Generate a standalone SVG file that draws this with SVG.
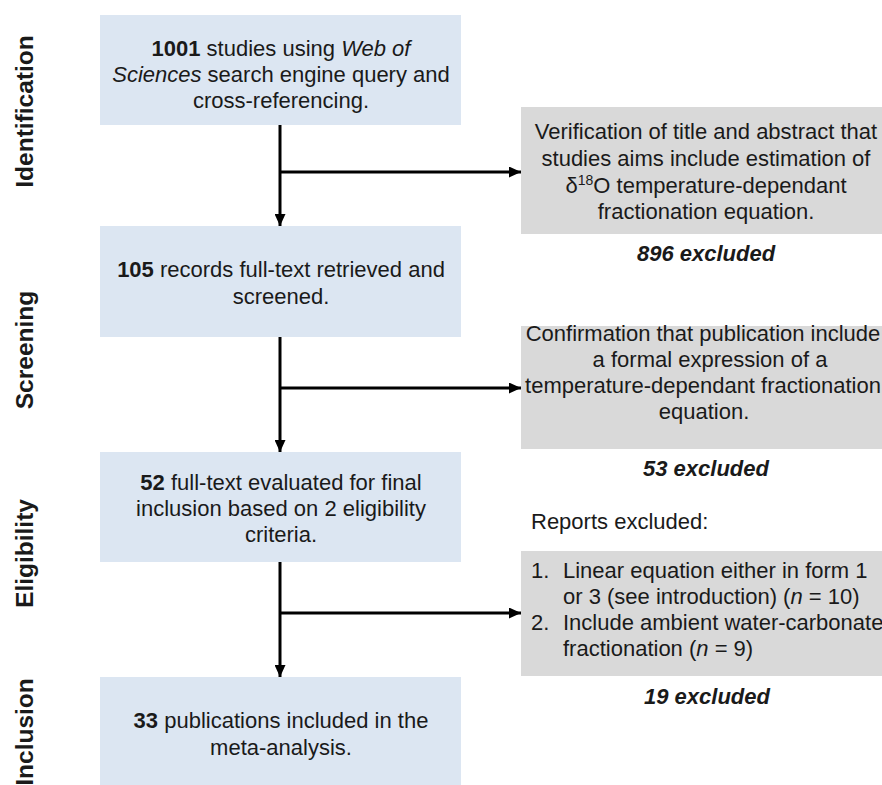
<svg xmlns="http://www.w3.org/2000/svg" width="882" height="785" viewBox="0 0 882 785">
<defs>
<style>
.blue{fill:#dce6f2}
.grey{fill:#d9d9d9}
.t{font-family:"Liberation Sans",Arial,sans-serif;font-size:22px;fill:#1a1a1a}
.c{text-anchor:middle}
.b{font-weight:bold}
.i{font-style:italic}
.side{font-family:"Liberation Sans",Arial,sans-serif;font-size:24.5px;font-weight:bold;fill:#1a1a1a;text-anchor:middle}
.con{fill:none;stroke:#000;stroke-width:3;marker-end:url(#ah)}
</style>
<marker id="ah" markerUnits="userSpaceOnUse" markerWidth="12" markerHeight="11" refX="12" refY="5.5" orient="auto">
<path d="M0,0 L12,5.5 L0,11 z" fill="#000"/>
</marker>
</defs>
<rect width="882" height="785" fill="#fff"/>

<g id="phase-labels">
<text class="side" transform="translate(33,111.5) rotate(-90)">Identification</text>
<text class="side" transform="translate(33,350) rotate(-90)">Screening</text>
<text class="side" transform="translate(33,553.5) rotate(-90)">Eligibility</text>
<text class="side" transform="translate(33,732) rotate(-90)">Inclusion</text>
</g>

<g id="node-identification">
<rect class="blue" x="100" y="15" width="361" height="110"/>
<text class="t c" x="281" y="56"><tspan class="b">1001</tspan> studies using <tspan class="i">Web of</tspan></text>
<text class="t c" x="281" y="82"><tspan class="i">Sciences</tspan> search engine query and</text>
<text class="t c" x="281" y="108">cross-referencing.</text>
</g>

<g id="node-screening">
<rect class="blue" x="100" y="226" width="361" height="111"/>
<text class="t c" x="281" y="277"><tspan class="b">105</tspan> records full-text retrieved and</text>
<text class="t c" x="281" y="304">screened.</text>
</g>

<g id="node-eligibility">
<rect class="blue" x="100" y="452" width="361" height="110"/>
<text class="t c" x="281" y="490"><tspan class="b">52</tspan> full-text evaluated for final</text>
<text class="t c" x="281" y="516">inclusion based on 2 eligibility</text>
<text class="t c" x="281" y="542">criteria.</text>
</g>

<g id="node-inclusion">
<rect class="blue" x="100" y="677" width="361" height="120"/>
<text class="t c" x="281" y="728"><tspan class="b">33</tspan> publications included in the</text>
<text class="t c" x="281" y="755">meta-analysis.</text>
</g>

<g id="node-exclusion-1">
<rect class="grey" x="521" y="107" width="370" height="127"/>
<text class="t c" x="706" y="139">Verification of title and abstract that</text>
<text class="t c" x="706" y="166">studies aims include estimation of</text>
<text class="t c" x="706" y="193">δ<tspan font-size="14" dy="-8">18</tspan><tspan dy="8">O temperature-dependant</tspan></text>
<text class="t c" x="706" y="219">fractionation equation.</text>
<text class="t c b i" x="706" y="261">896 excluded</text>
</g>

<g id="node-exclusion-2">
<rect class="grey" x="521" y="326" width="370" height="123"/>
<text class="t c" x="703" y="341">Confirmation that publication include</text>
<text class="t c" x="710" y="367">a formal expression of a</text>
<text class="t c" x="703" y="393">temperature-dependant fractionation</text>
<text class="t c" x="704" y="419">equation.</text>
<text class="t c b i" x="706" y="476">53 excluded</text>
</g>

<g id="node-exclusion-3">
<text class="t" x="531" y="529">Reports excluded:</text>
<rect class="grey" x="521" y="551" width="370" height="125"/>
<text class="t" x="531" y="578">1.</text>
<text class="t" x="563" y="578">Linear equation either in form 1</text>
<text class="t" x="563" y="604">or 3 (see introduction) (<tspan class="i">n</tspan> = 10)</text>
<text class="t" x="531" y="630">2.</text>
<text class="t" x="563" y="630">Include ambient water-carbonate</text>
<text class="t" x="563" y="656">fractionation (<tspan class="i">n</tspan> = 9)</text>
<text class="t c b i" x="707" y="704">19 excluded</text>
</g>

<g id="connectors">
<path class="con" d="M280,125 V226"/>
<path class="con" d="M280,172 H521"/>
<path class="con" d="M280,337 V452"/>
<path class="con" d="M280,388 H521"/>
<path class="con" d="M280,562 V677"/>
<path class="con" d="M280,613 H521"/>
</g>
</svg>
